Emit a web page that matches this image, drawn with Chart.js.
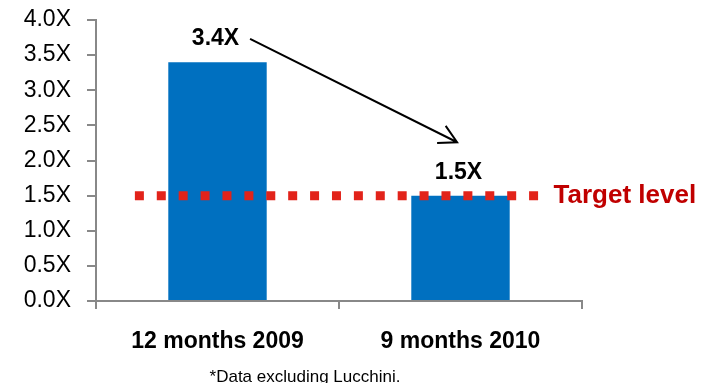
<!DOCTYPE html>
<html>
<head>
<meta charset="utf-8">
<script src="https://cdn.jsdelivr.net/npm/chart.js@4.4.0/dist/chart.umd.min.js"></script>
<style>
  html, body { margin: 0; padding: 0; background: #ffffff; }
  #wrap { width: 703px; height: 383px; position: relative; }
</style>
</head>
<body>
<div id="wrap"><canvas id="c" width="703" height="383"></canvas></div>
<script>
// ---- data ----
const categories = ['12 months 2009', '9 months 2010'];
const coverageValues = [3.4, 1.5];
const valueLabels = ['3.4X', '1.5X'];
const yTicks = [0, 0.5, 1, 1.5, 2, 2.5, 3, 3.5, 4];
const targetValue = 1.5;
const targetLabel = 'Target level';
const targetSpan = [-0.34, 1.35];          // category-index range of the dotted line
const arrowFrom = { x: 0.134, y: 3.73 };     // data coords (category index, value)
const arrowTo = { x: 0.986, y: 2.26 };
const footnote = '*Data excluding Lucchini.';

const FONT = "'Liberation Sans', Arial, sans-serif";

const overlay = {
  id: 'overlay',
  afterDatasetsDraw(chart) {
    const ctx = chart.ctx;
    const xs = chart.scales.x, ys = chart.scales.y;
    ctx.save();
    // target dotted line
    const ty = ys.getPixelForValue(targetValue);
    ctx.strokeStyle = '#E2231A';
    ctx.lineWidth = 9;
    ctx.setLineDash([9, 12.9]);
    ctx.lineCap = 'butt';
    ctx.beginPath();
    ctx.moveTo(xs.getPixelForValue(targetSpan[0]), ty);
    ctx.lineTo(xs.getPixelForValue(targetSpan[1]), ty);
    ctx.stroke();
    ctx.setLineDash([]);
    // target label
    ctx.fillStyle = '#C00000';
    ctx.font = "bold 26px " + FONT;
    ctx.textAlign = 'left';
    ctx.textBaseline = 'middle';
    ctx.fillText(targetLabel, xs.getPixelForValue(targetSpan[1]) + 8, ty);
    // value labels
    ctx.fillStyle = '#000000';
    ctx.font = "bold 23px " + FONT;
    ctx.textAlign = 'center';
    const meta = chart.getDatasetMeta(0);
    meta.data.forEach((bar, i) => {
      ctx.fillText(valueLabels[i], bar.x - 2, bar.y - 23);
    });
    // arrow
    const x1 = xs.getPixelForValue(arrowFrom.x), y1 = ys.getPixelForValue(arrowFrom.y);
    const x2 = xs.getPixelForValue(arrowTo.x), y2 = ys.getPixelForValue(arrowTo.y);
    ctx.strokeStyle = '#000000';
    ctx.lineWidth = 2;
    ctx.beginPath();
    ctx.moveTo(x1, y1);
    ctx.lineTo(x2, y2);
    const ang = Math.atan2(y2 - y1, x2 - x1);
    const hl = 20, spread = 0.5;
    ctx.moveTo(x2 - hl * Math.cos(ang - spread), y2 - hl * Math.sin(ang - spread));
    ctx.lineTo(x2, y2);
    ctx.lineTo(x2 - hl * Math.cos(ang + spread), y2 - hl * Math.sin(ang + spread));
    ctx.stroke();
    // footnote
    ctx.fillStyle = '#000000';
    ctx.font = "17px " + FONT;
    ctx.textAlign = 'center';
    ctx.textBaseline = 'alphabetic';
    ctx.fillText(footnote, 305, 382);
    ctx.restore();
  }
};

new Chart(document.getElementById('c'), {
  type: 'bar',
  data: {
    labels: categories,
    datasets: [{
      data: coverageValues,
      backgroundColor: '#0070C0',
      borderWidth: 0,
      categoryPercentage: 1,
      barPercentage: 0.405
    }]
  },
  options: {
    responsive: false,
    animation: false,
    devicePixelRatio: 1,
    layout: { padding: { top: 20, right: 121, bottom: 0, left: 0 } },
    plugins: { legend: { display: false }, tooltip: { enabled: false } },
    scales: {
      x: {
        offset: true,
        grid: { display: true, offset: true, drawOnChartArea: false, drawTicks: true, tickLength: 8, color: '#888888', lineWidth: 2 },
        border: { display: true, color: '#888888', width: 2 },
        ticks: { color: '#000000', font: { family: FONT, size: 23, weight: 'bold' }, padding: 19, maxRotation: 0 },
        afterFit(s) { s.height = 82; }
      },
      y: {
        min: 0, max: 4,
        afterBuildTicks(s) { s.ticks = yTicks.map(v => ({ value: v })); },
        grid: { display: true, drawOnChartArea: false, drawTicks: true, tickLength: 9, color: '#888888', lineWidth: 2 },
        border: { display: true, color: '#888888', width: 2 },
        ticks: { color: '#000000', font: { family: FONT, size: 23 }, padding: 16,
                 callback: v => Number(v).toFixed(1) + 'X' },
        afterFit(s) { s.width = 96; s.paddingTop = 0; s.paddingBottom = 0; }
      }
    }
  },
  plugins: [overlay]
});
</script>
</body>
</html>
